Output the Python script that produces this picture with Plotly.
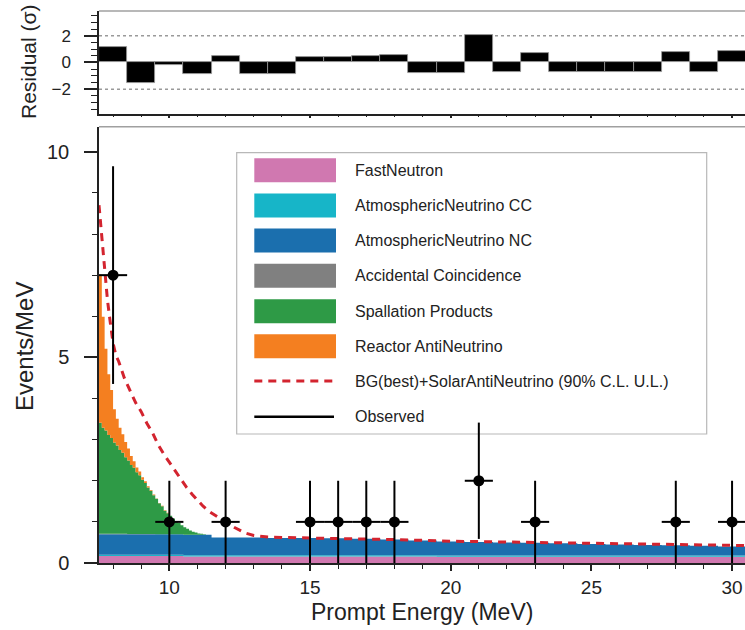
import numpy as np
import plotly.graph_objects as go

# ---------------------------------------------------------------------------
# Data
# ---------------------------------------------------------------------------
# Fine 0.1 MeV bins from 7.5 to 12.5 MeV (events/MeV)
fine_lo, fine_hi, fine_width = 7.5, 12.5, 0.1
spallation = [2.70, 2.58, 2.51, 2.40, 2.33, 2.22, 2.15, 2.04, 1.97, 1.86,
              1.79, 1.68, 1.61, 1.50, 1.43, 1.32, 1.24, 1.13, 1.05, 0.94,
              0.86, 0.75, 0.68, 0.57, 0.51, 0.45, 0.38, 0.32, 0.27, 0.22,
              0.18, 0.14, 0.10, 0.07, 0.05, 0.03, 0.02, 0.01, 0.00, 0.00,
              0.00, 0.00, 0.00, 0.00, 0.00, 0.00, 0.00, 0.00, 0.00, 0.00]
reactor = [3.60, 2.70, 1.99, 1.48, 1.17, 0.81, 0.65, 0.54, 0.45, 0.37,
           0.29, 0.22, 0.16, 0.12, 0.09, 0.06, 0.04, 0.03, 0.02, 0.02,
           0.01, 0.01, 0.01, 0.01, 0.01, 0.00, 0.00, 0.00, 0.00, 0.00,
           0.00, 0.00, 0.00, 0.00, 0.00, 0.00, 0.00, 0.00, 0.00, 0.00,
           0.00, 0.00, 0.00, 0.00, 0.00, 0.00, 0.00, 0.00, 0.00, 0.00]

# Coarse 1 MeV bins centred on 8, 9, ..., 31 MeV (events/MeV)
coarse_lo, coarse_width = 7.5, 1.0
fast_neutron = [0.17, 0.17, 0.17, 0.16, 0.16, 0.16, 0.16, 0.16, 0.16, 0.16, 0.16, 0.16,
                0.15, 0.15, 0.15, 0.15, 0.15, 0.15, 0.15, 0.15, 0.15, 0.15, 0.15, 0.15]
atm_cc = [0.03, 0.03, 0.03, 0.03, 0.03, 0.03, 0.03, 0.03, 0.03, 0.03, 0.03, 0.03,
          0.03, 0.03, 0.03, 0.03, 0.03, 0.03, 0.03, 0.03, 0.03, 0.03, 0.03, 0.03]
atm_nc = [0.50, 0.50, 0.50, 0.50, 0.43, 0.43, 0.42, 0.42, 0.41, 0.40, 0.38, 0.36,
          0.34, 0.33, 0.32, 0.31, 0.30, 0.28, 0.27, 0.26, 0.25, 0.24, 0.22, 0.21]
accidental = [0.01, 0.005, 0.0, 0.0, 0.0, 0.0, 0.0, 0.0, 0.0, 0.0, 0.0, 0.0,
              0.0, 0.0, 0.0, 0.0, 0.0, 0.0, 0.0, 0.0, 0.0, 0.0, 0.0, 0.0]

# Background (best fit) + solar antineutrino 90% C.L. upper limit
ul_energy = [7.50, 7.55, 7.60, 7.65, 7.70, 7.75, 7.80, 7.90, 8.00, 8.10, 8.20, 8.40,
             8.60, 8.80, 9.00, 9.20, 9.40, 9.60, 9.80, 10.0, 10.2, 10.4, 10.6, 10.8,
             11.0, 11.2, 11.4, 11.7, 12.0, 12.3, 12.7, 13.0, 13.5, 14.0, 15.0, 16.0,
             17.0, 18.0, 19.0, 20.0, 22.0, 24.0, 26.0, 28.0, 30.0, 31.0]
ul_events = [8.70, 8.30, 7.90, 7.55, 7.15, 6.75, 6.40, 5.85, 5.35, 5.05, 4.90, 4.50,
             4.18, 3.90, 3.68, 3.40, 3.17, 2.88, 2.65, 2.45, 2.25, 2.04, 1.85, 1.68,
             1.52, 1.38, 1.26, 1.12, 1.00, 0.87, 0.73, 0.67, 0.63, 0.62, 0.61, 0.60,
             0.59, 0.57, 0.55, 0.53, 0.51, 0.49, 0.47, 0.45, 0.43, 0.42]

# Observed candidates
obs_energy = [8, 10, 12, 15, 16, 17, 18, 21, 23, 28, 30]
obs_counts = [7, 1, 1, 1, 1, 1, 1, 2, 1, 1, 1]

# Residuals per 1 MeV bin (sigma)
res_energy = [8, 9, 10, 11, 12, 13, 14, 15, 16, 17, 18, 19,
              20, 21, 22, 23, 24, 25, 26, 27, 28, 29, 30]
res_sigma = [1.15, -1.50, -0.22, -0.85, 0.48, -0.85, -0.85, 0.43, 0.43, 0.48, 0.55, -0.78,
             -0.78, 2.03, -0.70, 0.68, -0.70, -0.70, -0.70, -0.70, 0.78, -0.70, 0.85]

layer_names = ["FastNeutron", "AtmosphericNeutrino CC", "AtmosphericNeutrino NC",
               "Accidental Coincidence", "Spallation Products", "Reactor AntiNeutrino"]
layer_colors = ["#d078b0", "#17b5c8", "#1b6fae", "#808080", "#2e9a46", "#f47f20"]
ul_name = "BG(best)+SolarAntiNeutrino (90% C.L. U.L.)"
obs_name = "Observed"
ul_color = "#d3242f"

# ---------------------------------------------------------------------------
# Common binning for the stacked histogram
# ---------------------------------------------------------------------------
n_fine = len(spallation)
n_coarse = len(fast_neutron)
fine_edges = fine_lo + fine_width * np.arange(n_fine + 1)
coarse_edges = coarse_lo + coarse_width * np.arange(n_coarse + 1)
edges = np.concatenate([fine_edges, coarse_edges[coarse_edges > fine_hi + 1e-9]])
centers = 0.5 * (edges[:-1] + edges[1:])

coarse_idx = np.floor((centers - coarse_lo) / coarse_width).astype(int)
fine_idx = np.floor((centers - fine_lo) / fine_width + 1e-9).astype(int)
in_fine = centers < fine_hi


def on_grid_coarse(vals):
    return np.asarray(vals, dtype=float)[coarse_idx]


def on_grid_fine(vals):
    v = np.asarray(vals, dtype=float)
    out = np.zeros(len(centers))
    out[in_fine] = v[fine_idx[in_fine]]
    return out


def step_outline(lower, upper):
    """Closed polygon of a histogram band between two step curves."""
    xs_top = np.repeat(edges, 2)[1:-1]
    ys_top = np.repeat(upper, 2)
    ys_bot = np.repeat(lower, 2)
    xs = np.concatenate([xs_top, xs_top[::-1]])
    ys = np.concatenate([ys_top, ys_bot[::-1]])
    return xs, ys


layers = [on_grid_coarse(fast_neutron), on_grid_coarse(atm_cc), on_grid_coarse(atm_nc),
          on_grid_coarse(accidental), on_grid_fine(spallation), on_grid_fine(reactor)]

# ---------------------------------------------------------------------------
# Figure geometry (pixels)
# ---------------------------------------------------------------------------
W, H = 745, 630
L, R, T, B = 99, 0, 11, 67
PW, PH = W - L - R, H - T - B


def px_x(px):
    return (px - L) / PW


def px_y(py):
    return (H - B - py) / PH


FONT = "Liberation Sans, Arial, Helvetica, sans-serif"
INK = "#222222"

fig = go.Figure()

cum = np.zeros(len(centers))
for vals, name, color in zip(layers, layer_names, layer_colors):
    lower = cum
    cum = cum + vals
    if not np.any(vals > 0):
        continue
    xs, ys = step_outline(lower, cum)
    fig.add_trace(go.Scatter(
        x=xs, y=ys, name=name, mode="lines", fill="toself", fillcolor=color,
        line=dict(width=0, color=color, simplify=False),
        showlegend=False, hoverinfo="skip", xaxis="x", yaxis="y"))

fig.add_trace(go.Scatter(
    x=ul_energy, y=ul_events, name=ul_name, mode="lines",
    line=dict(color=ul_color, width=3, dash="8px,6px"),
    showlegend=False, xaxis="x", yaxis="y"))

obs_err = np.sqrt(np.asarray(obs_counts, dtype=float))
fig.add_trace(go.Scatter(
    x=obs_energy, y=obs_counts, name=obs_name, mode="markers",
    marker=dict(color="black", size=11),
    error_y=dict(type="data", array=obs_err, arrayminus=obs_err,
                 color="black", thickness=2, width=0),
    error_x=dict(type="constant", value=0.5, color="black", thickness=2, width=0),
    showlegend=False, xaxis="x", yaxis="y"))

fig.add_trace(go.Bar(
    x=res_energy, y=res_sigma, width=1.0,
    marker=dict(color="black", line=dict(color="#9a9a9a", width=0.8)),
    showlegend=False, xaxis="x2", yaxis="y2"))

main_top = px_y(126.7)
res_bottom = px_y(113.5)

axis_common = dict(showline=True, linecolor=INK, linewidth=1.5, showgrid=False,
                   zeroline=False, tickcolor=INK, tickwidth=1.5,
                   tickfont=dict(family=FONT, size=20, color=INK))

fig.update_layout(
    width=W, height=H, margin=dict(l=L, r=R, t=T, b=B),
    paper_bgcolor="white", plot_bgcolor="white",
    font=dict(family=FONT, color=INK),
    bargap=0, showlegend=False,
    xaxis=dict(domain=[0, 1], anchor="y", range=[7.5, 30.46], ticks="outside",
               ticklen=6, tick0=0, dtick=5, ticklabelstandoff=0,
               minor=dict(dtick=1, ticklen=4, ticks="outside", tickcolor=INK, tickwidth=1.2),
               **{**axis_common, "tickfont": dict(family=FONT, size=19, color=INK)}),
    yaxis=dict(domain=[0, main_top], anchor="x", range=[0, 10.61], ticks="outside",
               ticklen=13, tick0=0, dtick=5, ticklabelstandoff=11,
               minor=dict(dtick=1, ticklen=5, ticks="outside", tickcolor=INK, tickwidth=1.2),
               **axis_common),
    xaxis2=dict(domain=[0, 1], anchor="y2", matches="x", range=[7.5, 30.46],
                showticklabels=False, ticks="outside", ticklen=3, tick0=0, dtick=5,
                minor=dict(dtick=1, ticklen=2, ticks="outside", tickcolor=INK, tickwidth=1),
                **axis_common),
    yaxis2=dict(domain=[res_bottom, 1], anchor="x2", range=[-3.82, 3.85], ticks="outside",
                ticklen=13, tick0=0, dtick=2, ticklabelstandoff=10,
                minor=dict(dtick=0.5, ticklen=6, ticks="outside", tickcolor=INK, tickwidth=1.2),
                **{**axis_common, "tickfont": dict(family=FONT, size=17, color=INK)}),
)

shapes = []
# gray top borders of both panels
for ytop in (1.0, main_top):
    shapes.append(dict(type="line", xref="paper", yref="paper", x0=0, x1=1,
                       y0=ytop, y1=ytop, line=dict(color="#a0a0a0", width=1.5)))
# +-2 sigma guide lines
for lvl in (-2, 2):
    shapes.append(dict(type="line", xref="paper", yref="y2", x0=0, x1=1,
                       y0=lvl, y1=lvl, line=dict(color="#9a9a9a", width=1.5, dash="dot"),
                       layer="below"))

# legend box
shapes.append(dict(type="rect", xref="paper", yref="paper",
                   x0=px_x(236.7), x1=px_x(706.7), y0=px_y(434), y1=px_y(152.7),
                   line=dict(color="#b8b8b8", width=1.2), fillcolor="white", layer="below"))

row_centers = [170.3, 205.4, 240.5, 275.8, 311.2, 346.3, 381.0, 416.7]
sw_x0, sw_x1, sw_h = 254.3, 336.0, 24.0
annotations = []
for yc, color in zip(row_centers[:6], layer_colors):
    shapes.append(dict(type="rect", xref="paper", yref="paper",
                       x0=px_x(sw_x0), x1=px_x(sw_x1),
                       y0=px_y(yc + sw_h / 2), y1=px_y(yc - sw_h / 2),
                       line=dict(width=0), fillcolor=color, layer="below"))
shapes.append(dict(type="line", xref="paper", yref="paper",
                   x0=px_x(sw_x0), x1=px_x(sw_x1 - 2), y0=px_y(row_centers[6]), y1=px_y(row_centers[6]),
                   line=dict(color=ul_color, width=3, dash="8px,6px"), layer="below"))
shapes.append(dict(type="line", xref="paper", yref="paper",
                   x0=px_x(sw_x0), x1=px_x(sw_x1 - 2), y0=px_y(row_centers[7]), y1=px_y(row_centers[7]),
                   line=dict(color="black", width=2.5), layer="below"))

for yc, label in zip(row_centers, layer_names + [ul_name, obs_name]):
    annotations.append(dict(text=label, xref="paper", yref="paper",
                            x=px_x(352.5), y=px_y(yc), xanchor="left", yanchor="middle",
                            showarrow=False, font=dict(family=FONT, size=16, color=INK)))

# axis titles
annotations.append(dict(text="Prompt Energy (MeV)", xref="paper", yref="paper",
                        x=px_x(421.5), y=px_y(612), xanchor="center", yanchor="middle",
                        showarrow=False, font=dict(family=FONT, size=23, color=INK)))
annotations.append(dict(text="Events/MeV", xref="paper", yref="paper", textangle=-90,
                        x=px_x(24), y=px_y(347), xanchor="center", yanchor="middle",
                        showarrow=False, font=dict(family=FONT, size=24, color=INK)))
annotations.append(dict(text="Residual (σ)", xref="paper", yref="paper", textangle=-90,
                        x=px_x(29), y=px_y(62), xanchor="center", yanchor="middle",
                        showarrow=False, font=dict(family=FONT, size=21, color=INK)))

fig.update_layout(shapes=shapes, annotations=annotations)

fig.write_html("out.html", config={"displayModeBar": False})
